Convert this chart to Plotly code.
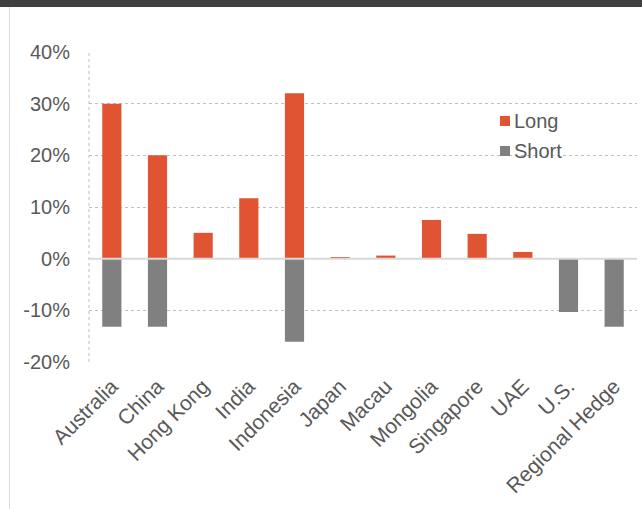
import plotly.graph_objects as go

categories = ["Australia", "China", "Hong Kong", "India", "Indonesia", "Japan",
              "Macau", "Mongolia", "Singapore", "UAE", "U.S.", "Regional Hedge"]
long_vals = [0.30, 0.20, 0.05, 0.117, 0.32, 0.003, 0.006, 0.075, 0.048, 0.013, None, None]
short_vals = [-0.132, -0.132, None, None, -0.161, None, None, None, None, None, -0.103, -0.132]
y_ticks = [-0.2, -0.1, 0.0, 0.1, 0.2, 0.3, 0.4]
y_tick_labels = ["-20%", "-10%", "0%", "10%", "20%", "30%", "40%"]
series_names = ["Long", "Short"]
series_colors = ["#E05433", "#808080"]

W, H = 642, 509
ML, MR, MT, MB = 89, 5, 52, 147
pw = W - ML - MR
ph = H - MT - MB

def px_x(x):
    return (x - ML) / pw

def px_y(y):
    return (H - MB - y) / ph

fig = go.Figure()
for name, vals, col in zip(series_names, [long_vals, short_vals], series_colors):
    fig.add_trace(go.Bar(x=categories, y=vals, name=name,
                         marker=dict(color=col, line=dict(width=0)), width=0.42,
                         showlegend=False))

font = "Liberation Sans, Arial, sans-serif"
txt_col = "#595959"

shapes = [
    dict(type="rect", xref="paper", yref="paper", x0=px_x(0), x1=px_x(W),
         y0=px_y(0), y1=px_y(7), fillcolor="#404040", line=dict(width=0), layer="above"),
    dict(type="line", xref="paper", yref="paper", x0=px_x(9.5), x1=px_x(9.5),
         y0=px_y(7), y1=px_y(H), line=dict(color="#d9d9d9", width=1)),
    dict(type="line", xref="paper", yref="paper", x0=0, x1=0, y0=0, y1=1,
         line=dict(color="#bfbfbf", width=1, dash="dot")),
    dict(type="line", xref="paper", yref="y", x0=0, x1=1, y0=0, y1=0,
         line=dict(color="#d9d9d9", width=2), layer="above"),
]
annotations = []
leg_y = [121, 151]
for name, col, yy in zip(series_names, series_colors, leg_y):
    shapes.append(dict(type="rect", xref="paper", yref="paper",
                       x0=px_x(500), x1=px_x(510), y0=px_y(yy - 5), y1=px_y(yy + 5),
                       fillcolor=col, line=dict(width=0), layer="above"))
    annotations.append(dict(xref="paper", yref="paper", x=px_x(512), y=px_y(yy),
                            xanchor="left", yanchor="middle", text=name, showarrow=False,
                            font=dict(size=20, color=txt_col, family=font)))

fig.update_layout(
    width=W, height=H,
    margin=dict(l=ML, r=MR, t=MT, b=MB),
    barmode="overlay",
    paper_bgcolor="white", plot_bgcolor="white",
    font=dict(family=font, size=20, color=txt_col),
    showlegend=False,
    xaxis=dict(tickangle=-45, showgrid=False, showline=False, ticks="",
               ticklabelstandoff=7,
               tickfont=dict(size=21, color=txt_col)),
    yaxis=dict(range=[-0.2, 0.4], tickvals=y_ticks, ticktext=y_tick_labels,
               showgrid=True, gridcolor="#bfbfbf", griddash="dot", gridwidth=1,
               zeroline=False, ticks="", ticklabelstandoff=18,
               tickfont=dict(size=20, color=txt_col)),
    shapes=shapes,
    annotations=annotations,
)

fig.write_html("out.html")
